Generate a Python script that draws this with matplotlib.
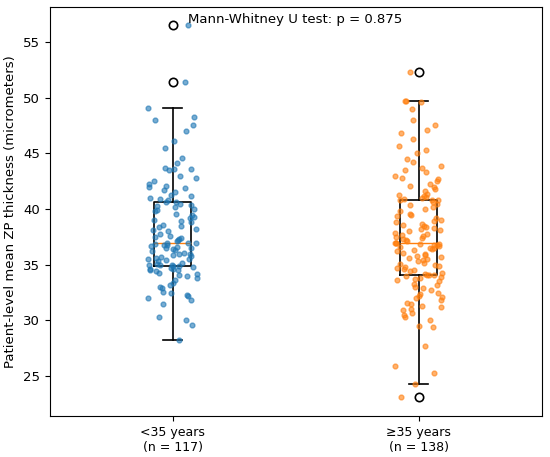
import numpy as np
import matplotlib
matplotlib.use("Agg")
import matplotlib.pyplot as plt

# patient-level mean ZP thickness (micrometers)
young = [
    28.26, 29.6, 30.0, 30.3, 31.5, 31.8, 32.0, 32.2, 32.3, 32.5,
    32.6, 32.9, 33.0, 33.2, 33.4, 33.6, 33.8, 34.0, 34.1, 34.2,
    34.3, 34.4, 34.5, 34.5, 34.6, 34.6, 34.7, 34.8, 34.85, 34.9,
    34.95, 35.0, 35.0, 35.1, 35.2, 35.3, 35.4, 35.5, 35.5, 35.6,
    35.7, 35.8, 35.9, 36.0, 36.0, 36.1, 36.2, 36.3, 36.4, 36.5,
    36.5, 36.6, 36.7, 36.8, 36.8, 36.9, 36.95, 36.98, 37.0,
    37.1, 37.2, 37.3, 37.4, 37.5, 37.6, 37.8, 38.0, 38.1, 38.2,
    38.4, 38.5, 38.6, 38.8, 38.9, 39.0, 39.2, 39.3, 39.5, 39.6,
    39.8, 39.9, 40.0, 40.2, 40.3, 40.4, 40.5, 40.6, 40.66,
    40.8, 40.9, 41.0, 41.2, 41.3, 41.5, 41.7, 41.9, 42.0, 42.1,
    42.3, 42.5, 42.8, 43.0, 43.5, 43.6, 43.6, 43.7, 44.1, 44.6,
    45.5, 46.1, 47.0, 47.6, 48.0, 48.3, 49.04, 51.4, 56.5,
]
older = [
    23.1, 24.26, 25.3, 25.9, 27.7, 29.4, 29.5, 30.0, 30.3, 30.5,
    30.7, 30.9, 31.0, 31.2, 31.3, 31.5, 31.6, 31.8, 32.0, 32.1,
    32.2, 32.4, 32.5, 32.7, 32.9, 33.0, 33.2, 33.3, 33.5, 33.6,
    33.7, 33.8, 33.9, 34.0, 34.07, 34.07,
    34.1, 34.2, 34.3, 34.4, 34.5, 34.6, 34.7, 34.8, 34.9, 35.0,
    35.1, 35.2, 35.3, 35.4, 35.5, 35.6, 35.7, 35.8, 35.9, 36.0,
    36.1, 36.2, 36.3, 36.4, 36.5, 36.55, 36.6, 36.7, 36.75, 36.8,
    36.85, 36.9, 36.96, 36.96,
    37.0, 37.1, 37.2, 37.3, 37.4, 37.5, 37.6, 37.7, 37.8, 37.9,
    38.0, 38.1, 38.2, 38.3, 38.4, 38.5, 38.6, 38.7, 38.8, 38.9,
    39.0, 39.2, 39.4, 39.5, 39.6, 39.8, 40.0, 40.2, 40.4, 40.5,
    40.6, 40.8, 40.85, 40.85,
    40.9, 41.0, 41.1, 41.2, 41.3, 41.4, 41.6, 41.8, 42.0, 42.1,
    42.3, 42.5, 42.7, 42.8, 43.0, 43.3, 43.5, 43.7, 43.9, 44.2,
    44.5, 45.0, 45.3, 45.7, 46.3, 46.8, 47.1, 47.6, 48.0, 49.0,
    49.6, 49.7, 49.7, 52.35,
]
group_labels = ["<35 years\n(n = 117)", "\u226535 years\n(n = 138)"]
colors = ["tab:blue", "tab:orange"]
p_value = 0.875

fig, ax = plt.subplots(figsize=(5.5, 4.57), dpi=100)

ax.boxplot([young, older], positions=[1, 2], widths=0.15,
           boxprops=dict(color="black", lw=1.2),
           whiskerprops=dict(color="black", lw=1.2),
           capprops=dict(color="black", lw=1.2),
           medianprops=dict(color="tab:orange", lw=1.0),
           flierprops=dict(marker="o", markerfacecolor="none",
                           markeredgecolor="black", markersize=6, markeredgewidth=1.2))

# horizontal jitter only (x positions), values stay as read
rng = np.random.default_rng(7)
for i, (vals, col) in enumerate(zip([young, older], colors)):
    jit = rng.uniform(-0.1, 0.1, len(vals))
    ax.scatter(i + 1 + jit, vals, s=12, color=col, alpha=0.6, zorder=3)

ax.set_xticks([1, 2])
ax.set_xticklabels(group_labels, fontsize=9)
ax.tick_params(axis="y", labelsize=9.5)
ax.set_xlim(0.5, 2.5)
ax.set_ylabel("Patient-level mean ZP thickness (micrometers)", fontsize=9.5)
ax.text(0.5, 0.985, f"Mann-Whitney U test: p = {p_value:.3f}",
        transform=ax.transAxes, ha="center", va="top", fontsize=9.5)

fig.subplots_adjust(left=0.09, right=0.985, top=0.985, bottom=0.09)
fig.savefig("out.png", dpi=100)
